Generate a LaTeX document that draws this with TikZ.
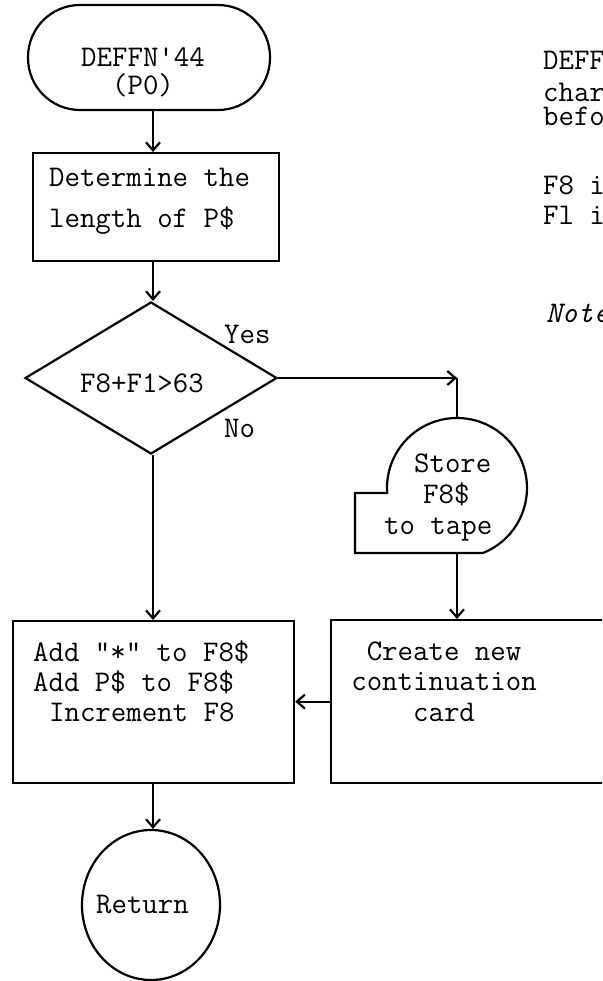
\documentclass[tikz,border=0pt]{standalone}
\usepackage{fontspec}
\usetikzlibrary{arrows.meta,shapes.geometric}
\begin{document}
\begin{tikzpicture}[x=1pt,y=1pt,line width=2.2pt,
  every node/.style={font=\ttfamily\fontsize{30}{34}\selectfont},
  boxst/.style={draw, rectangle, inner sep=0pt, anchor=north west},
  txt/.style={inner sep=0pt, anchor=base west},
  ctxt/.style={inner sep=0pt, anchor=base},
  arr/.style={-{Straight Barb[length=8pt,width=14pt]}}]
\useasboundingbox (0,0) rectangle (602,-981);
\clip (0,0) rectangle (602,-981);
\coordinate (mx) at (153,0);

% start terminal
\node[draw, rounded corners=52pt, minimum width=242pt, minimum height=105pt, inner sep=0pt] (start) at (149,-57.5) {};
\node[ctxt] (t1a) at (143,-67) {DEFFN'44};
\node[ctxt] (t1b) at (143,-95) {(P0)};

% determine box
\node[boxst, minimum width=246pt, minimum height=108pt] (det) at (32,-152) {};
\node[txt] (t2a) at (48,-187) {Determine the};
\node[txt] (t2b) at (48,-228) {length of P\$};

% decision
\node[draw, diamond, minimum width=252pt, minimum height=152pt, inner sep=0pt] (dec) at (151,-378) {};
\node[ctxt] (t3) at (142,-392) {F8+F1>63};
\node[txt] (yes) at (223,-343) {Yes};
\node[txt] (no) at (223,-437) {No};

% store to tape
\coordinate (corner) at (457,-378);
\coordinate (storetop) at (457,-418);
\coordinate (storebot) at (457,-553);
\draw (355,-553) -- (355,-493) -- (387.18,-493) arc[start angle=184.1, end angle=-68.2, radius=70pt] -- cycle;
\node[txt] (t4a) at (413,-472) {Store};
\node[txt] (t4b) at (422,-503) {F8\$};
\node[txt] (t4c) at (383,-534) {to tape};

% continuation card
\node[boxst, minimum width=320pt, minimum height=163pt] (card) at (330,-619) {};
\node[ctxt] (t5a) at (444,-660) {Create new};
\node[ctxt] (t5b) at (444,-690) {continuation};
\node[ctxt] (t5c) at (444,-721) {card};

% add box
\node[boxst, minimum width=281pt, minimum height=162pt] (add) at (12,-620) {};
\node[txt] (t6a) at (32,-661) {Add "*" to F8\$};
\node[txt] (t6b) at (32,-691) {Add P\$ to F8\$};
\node[txt] (t6c) at (48,-721) {Increment F8};

% return
\node[draw, ellipse, minimum width=138pt, minimum height=150pt, inner sep=0pt] (ret) at (151,-905) {};
\node[txt] (t7) at (95,-913) {Return};

% right-side text (cut off at the edge, as in the original)
\node[txt] (r1) at (542,-70) {DEFF};
\node[txt] (r2) at (542,-102) {char};
\node[txt] (r3) at (542,-126) {befo};
\node[txt] (r4) at (542,-195) {F8 i};
\node[txt] (r5) at (542,-225) {Fl i};
\node[txt] (r6) at (545,-322) {\itshape Note};

% connectors
\draw[arr] (start.south -| mx) -- (det.north -| mx);
\draw[arr] (det.south -| mx) -- (dec.north -| mx);
\draw[arr] (dec.east) -- (corner);
\draw (corner) -- (storetop);
\draw[arr] (storebot) -- (storebot |- card.north);
\draw[arr] (card.west) -- (card.west -| add.east);
\draw[arr] (dec.south -| mx) -- (add.north -| mx);
\draw[arr] (add.south -| mx) -- (ret.north -| mx);
\end{tikzpicture}
\end{document}
